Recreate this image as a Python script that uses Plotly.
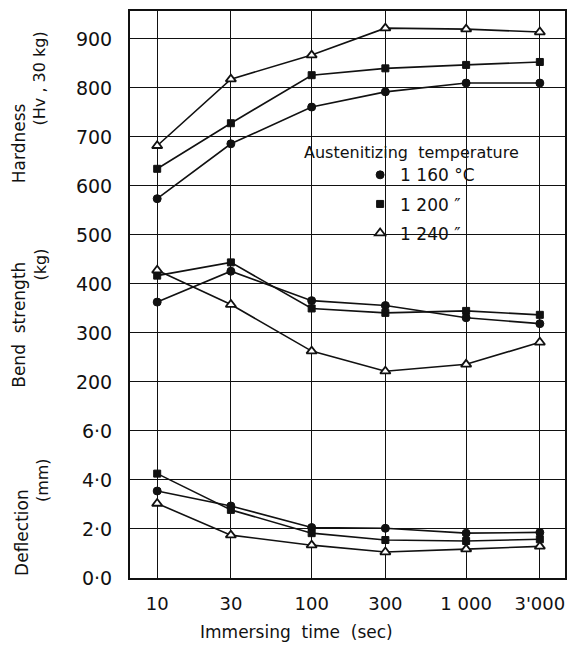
import plotly.graph_objects as go

# Immersing time (sec) and tick labels
times = [10, 30, 100, 300, 1000, 3000]
time_labels = ["10", "30", "100", "300", "1 000", "3'000"]

# Hardness (Hv, 30 kg) per austenitizing temperature
hardness_1160 = [574, 686, 761, 792, 810, 810]
hardness_1200 = [635, 728, 826, 840, 847, 853]
hardness_1240 = [682, 818, 867, 922, 920, 914]

# Bend strength (kg)
bend_1160 = [363, 426, 366, 356, 331, 319]
bend_1200 = [417, 444, 350, 341, 345, 337]
bend_1240 = [428, 358, 263, 222, 236, 281]

# Deflection (mm)
deflection_1160 = [3.55, 2.94, 2.06, 2.03, 1.83, 1.86]
deflection_1200 = [4.26, 2.78, 1.83, 1.55, 1.51, 1.58]
deflection_1240 = [3.04, 1.75, 1.34, 1.06, 1.18, 1.29]

# Shared vertical scale: 0..3 holds deflection (0-6 mm), 4..11 holds kg / Hv (200-900)
y_tick_labels = ["0·0", "2·0", "4·0", "6·0", "200", "300", "400",
                 "500", "600", "700", "800", "900"]

temps = ["1 160 °C", "1 200 ″", "1 240 ″"]


def strength_units(vals):
    return [v / 100 + 2 for v in vals]


def deflection_units(vals):
    return [v / 2 for v in vals]


FONT = "DejaVu Sans"
INK = "#111111"

styles = [
    dict(symbol="circle", size=8, color=INK, line=dict(color=INK, width=1)),
    dict(symbol="square", size=7, color=INK, line=dict(color=INK, width=1)),
    dict(symbol="triangle-up", size=9, color="white", line=dict(color=INK, width=1.8)),
]

series = [
    (hardness_1160, bend_1160, deflection_1160),
    (hardness_1200, bend_1200, deflection_1200),
    (hardness_1240, bend_1240, deflection_1240),
]

fig = go.Figure()

for (hard, bend, defl), mk, name in zip(series, styles, temps):
    for ys in (strength_units(hard), strength_units(bend), deflection_units(defl)):
        fig.add_trace(go.Scatter(
            x=times, y=ys, mode="lines+markers",
            line=dict(color=INK, width=1.6),
            marker=mk, showlegend=False, name=name,
        ))

# legend entries (markers only)
for i, (mk, name) in enumerate(zip(styles, temps)):
    fig.add_trace(go.Scatter(
        x=[None], y=[None], mode="markers", marker=mk, name=name,
        legendgroup=f"g{i}", showlegend=True,
    ))

fig.update_xaxes(
    type="log", range=[0.824, 3.640],
    tickvals=times, ticktext=time_labels, ticks="",
    showgrid=True, gridcolor=INK, gridwidth=1.3,
    showline=True, mirror=True, linecolor=INK, linewidth=2,
    zeroline=False, ticklabelstandoff=8,
    tickfont=dict(family=FONT, size=18, color=INK),
)
fig.update_yaxes(
    range=[0, 11.57],
    tickvals=list(range(12)), ticktext=y_tick_labels, ticks="",
    showgrid=True, gridcolor=INK, gridwidth=1.3,
    showline=True, mirror=True, linecolor=INK, linewidth=2,
    zeroline=False, ticklabelstandoff=12,
    tickfont=dict(family=FONT, size=19, color=INK),
)

# white panel behind the legend (covers the grid, sits under the traces)
fig.add_shape(type="rect", xref="paper", yref="paper",
              x0=0.245, x1=0.897, y0=0.564, y1=0.775,
              fillcolor="white", line=dict(width=0), layer="between")


def note(text, x, y, size=16, angle=0):
    fig.add_annotation(text=text, x=x, y=y, xref="paper", yref="paper",
                       showarrow=False, textangle=angle,
                       xanchor="center", yanchor="middle",
                       font=dict(family=FONT, size=size, color=INK))


note("Austenitizing  temperature", 0.646, 0.750, size=16)
note("Hardness", -0.255, 0.767, size=17, angle=-90)
note("(Hv , 30 kg)", -0.207, 0.881, size=16, angle=-90)
note("Bend  strength", -0.257, 0.447, size=17, angle=-90)
note("(kg)", -0.207, 0.553, size=16, angle=-90)
note("Deflection", -0.250, 0.080, size=17, angle=-90)
note("(mm)", -0.201, 0.172, size=16, angle=-90)
note("Immersing  time  (sec)", 0.382, -0.096, size=17)

fig.update_layout(
    width=569, height=646,
    margin=dict(l=130, r=2, t=11, b=68),
    plot_bgcolor="white", paper_bgcolor="white",
    font=dict(family=FONT, color=INK),
    legend=dict(
        x=0.529, y=0.742, xanchor="left", yanchor="top",
        bgcolor="rgba(0,0,0,0)", borderwidth=0,
        font=dict(family=FONT, size=17, color=INK),
        tracegroupgap=4, itemwidth=30,
    ),
)

fig.write_html("out.html")
